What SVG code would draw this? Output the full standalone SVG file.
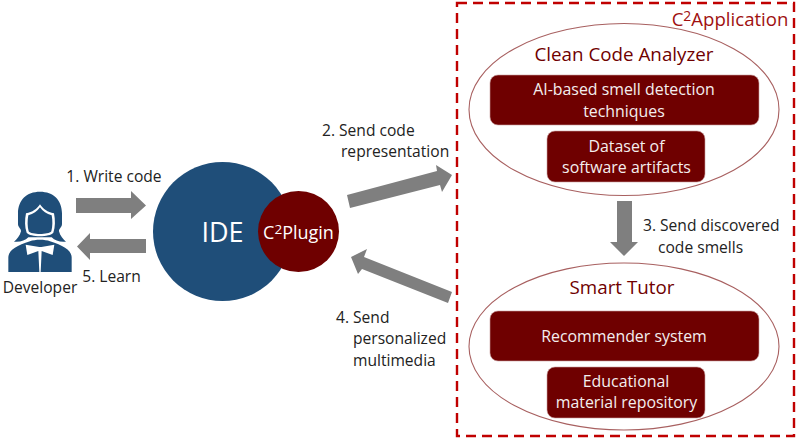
<svg xmlns="http://www.w3.org/2000/svg" width="800" height="441" viewBox="0 0 800 441">
<style>
text{font-family:"Open Sans","Noto Sans","Liberation Sans",sans-serif;text-anchor:middle}
.l{font-size:15.6px;fill:#222}
.s{text-anchor:start}
.w{font-size:15.900px;fill:#f4eeee}
.h{font-size:18.800px;fill:#6f0000}
.box{fill:#6f0000;stroke:#c9a0a0;stroke-width:.6}
.ell{fill:#fff;stroke:#a86060;stroke-width:1.1}
.arrow{fill:#7f7f7f}
.sup{font-size:75%;baseline-shift:38%}
</style>
<rect width="800" height="441" fill="#fff"/>
<g id="c2-application">
<rect x="457" y="3" width="337" height="433" fill="none" stroke="#c00000" stroke-width="2.4" stroke-dasharray="10 6"/>
<text x="730" y="26" style="font-size:18.600px;fill:#a01010"><tspan>C</tspan><tspan class="sup">2</tspan><tspan>Application</tspan></text>
</g>
<g id="clean-code-analyzer">
<ellipse class="ell" cx="624" cy="109.5" rx="155" ry="86"/>
<text class="h" x="624" y="61">Clean Code Analyzer</text>
</g>
<g id="ai-smell-detection">
<rect class="box" x="490" y="75" width="269" height="50" rx="8"/>
<text class="w" x="624" y="95">AI-based smell detection</text>
<text class="w" x="624" y="117">techniques</text>
</g>
<g id="dataset">
<rect class="box" x="547" y="131" width="158" height="51" rx="8"/>
<text class="w" x="626.500" y="152">Dataset of</text>
<text class="w" x="626.500" y="173">software artifacts</text>
</g>
<g id="smart-tutor">
<ellipse class="ell" cx="624" cy="346.500" rx="155" ry="83.500"/>
<text class="h" x="622" y="294">Smart Tutor</text>
</g>
<g id="recommender">
<rect class="box" x="490" y="311" width="269" height="50" rx="8"/>
<text class="w" x="624" y="342">Recommender system</text>
</g>
<g id="educational">
<rect class="box" x="547" y="367" width="158" height="51" rx="8"/>
<text class="w" x="626" y="387">Educational</text>
<text class="w" x="626.500" y="408">material repository</text>
</g>
<g id="ide">
<circle cx="222.500" cy="231.500" r="69.500" fill="#1f4e79"/>
<text x="222.500" y="242" style="font-size:27px;fill:#fff">IDE</text>
</g>
<g id="c2-plugin">
<circle cx="298.500" cy="231.500" r="40.500" fill="#6f0000"/>
<text x="298.500" y="239" style="font-size:18px;fill:#fff"><tspan>C</tspan><tspan class="sup">2</tspan><tspan>Plugin</tspan></text>
</g>
<g id="developer">
<g transform="translate(0 150) scale(.33333)">
<path fill="#1f4e79" d="M120 125C160 125 186 150 186 190V222C186 232 176 236 177 244C180 258 190 268 198 275C180 277 165 272 155 262H85C75 272 60 277 42 275C50 268 60 258 63 244C64 236 54 232 54 222V190C54 150 80 125 120 125Z"/>
<path fill="#fff" d="M120 163C110 178 98 186 78 190C74 210 74 232 80 248C90 262 150 262 160 248C166 232 166 210 162 190C142 186 130 178 120 163Z"/>
<path fill="#1f4e79" d="M120 172C112 184 100 192 85 196C82 212 82 230 86 244C95 255 145 255 154 244C158 230 158 212 155 196C140 192 128 184 120 172Z"/>
<path fill="#1f4e79" d="M25 366V322C25 302 50 286 90 274C105 268 135 268 150 274C190 286 215 302 215 322V366Z"/>
<path fill="#fff" d="M77 284L118 291L124 291L163 284L158 315L125 303L122 366H118L115 303L82 315Z"/>
</g>
<text x="40" y="293" style="font-size:15.600px;fill:#222">Developer</text>
</g>
<g id="connectors">
<path class="arrow" d="M76 198H131V191L146 205.500L131 219V213H76Z"/>
<path class="arrow" d="M146 239H90V233L77 246.500L90 260V253H146Z"/>
<path class="arrow" d="M347 195L437 171L436 165L452 175L442 192L440 185L350 208Z"/>
<path class="arrow" d="M452 292L364 257L367 249L351 257L358 274L362 269L448 303Z"/>
<path class="arrow" d="M617 201H632V242H638L624 256L610 242H617Z"/>
</g>
<g id="labels">
<text class="l" x="114" y="182">1. Write code</text>
<text class="l" x="111.500" y="282">5. Learn</text>
<text class="l s" x="322" y="136">2. Send code</text>
<text class="l s" x="341" y="157">representation</text>
<text class="l s" x="336" y="323">4. Send</text>
<text class="l s" x="353" y="344">personalized</text>
<text class="l s" x="353" y="366">multimedia</text>
<text class="l s" x="643" y="231">3. Send discovered</text>
<text class="l s" x="658" y="253">code smells</text>
</g>
</svg>
